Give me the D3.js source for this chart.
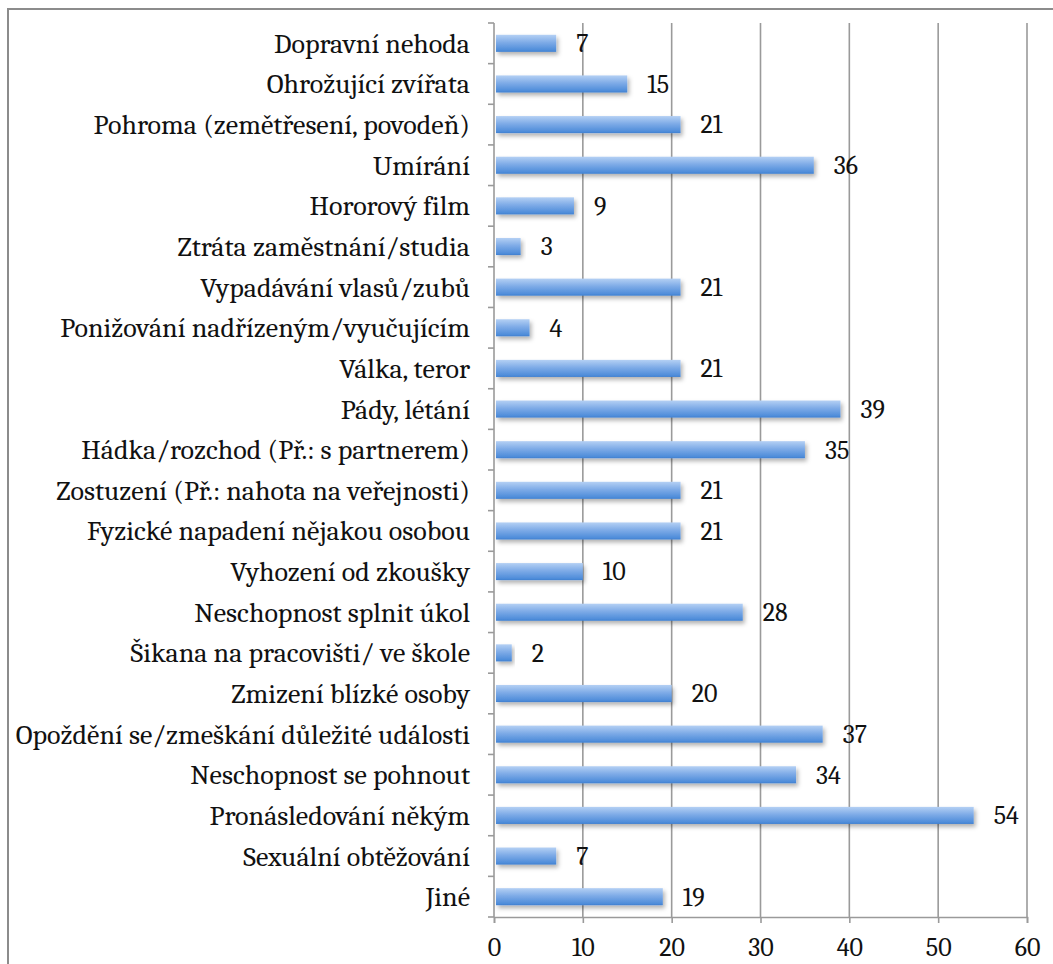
<!DOCTYPE html>
<html><head><meta charset="utf-8">
<script src="https://cdn.jsdelivr.net/npm/d3@7"></script>
<style>
html,body{margin:0;padding:0;background:#fff;}
svg{display:block;}
</style></head>
<body>
<svg id="chart" width="1053" height="964"></svg>
<script>
const categories = [
  "Dopravní nehoda",
  "Ohrožující zvířata",
  "Pohroma (zemětřesení, povodeň)",
  "Umírání",
  "Hororový film",
  "Ztráta zaměstnání/studia",
  "Vypadávání vlasů/zubů",
  "Ponižování nadřízeným/vyučujícím",
  "Válka, teror",
  "Pády, létání",
  "Hádka/rozchod (Př.: s partnerem)",
  "Zostuzení (Př.: nahota na veřejnosti)",
  "Fyzické napadení nějakou osobou",
  "Vyhození od zkoušky",
  "Neschopnost splnit úkol",
  "Šikana na pracovišti/ ve škole",
  "Zmizení blízké osoby",
  "Opoždění se/zmeškání důležité události",
  "Neschopnost se pohnout",
  "Pronásledování někým",
  "Sexuální obtěžování",
  "Jiné"
];
const values = [7,15,21,36,9,3,21,4,21,39,35,21,21,10,28,2,20,37,34,54,7,19];
const xTicks = [0,10,20,30,40,50,60];

const svg = d3.select("#chart");
const W = 1053, H = 964;
const mLeft = 494, mRight = 1027, mTop = 23, mBottom = 917;

// outer border
svg.append("rect").attr("x",8).attr("y",9).attr("width",W+10).attr("height",H+10)
  .attr("fill","none").attr("stroke","#8c8c8c").attr("stroke-width",2);

const defs = svg.append("defs");
const grad = defs.append("linearGradient").attr("id","barGrad")
  .attr("x1",0).attr("y1",0).attr("x2",0).attr("y2",1);
grad.append("stop").attr("offset","0%").attr("stop-color","#b4d0f4");
grad.append("stop").attr("offset","45%").attr("stop-color","#7eabe7");
grad.append("stop").attr("offset","90%").attr("stop-color","#4f8dda");
grad.append("stop").attr("offset","100%").attr("stop-color","#3f7fcf");
const f = defs.append("filter").attr("id","shadow").attr("x","-10%").attr("y","-50%").attr("width","130%").attr("height","250%");
f.append("feDropShadow").attr("dx",2).attr("dy",3).attr("stdDeviation",2)
  .attr("flood-color","#000").attr("flood-opacity",0.3);

const x = d3.scaleLinear().domain([0,60]).range([mLeft,mRight]);
const y = d3.scaleBand().domain(categories).range([mTop,mBottom]).padding(0);

const font = "Caladea, Cambria, 'Liberation Serif', serif";

// gridlines
svg.append("g").selectAll("line").data(xTicks.filter(d=>d>0)).join("line")
  .attr("x1",d=>x(d)).attr("x2",d=>x(d)).attr("y1",mTop).attr("y2",mBottom)
  .attr("stroke","#9a9a9a").attr("stroke-width",1.6);

// x axis
const xAxis = svg.append("g").attr("transform",`translate(0,${mBottom})`)
  .call(d3.axisBottom(x).tickValues(xTicks).tickSize(6).tickPadding(15).tickFormat(d3.format("d")));
xAxis.select(".domain").attr("stroke","#9a9a9a").attr("stroke-width",1.6);
xAxis.selectAll(".tick line").attr("stroke","#9a9a9a").attr("stroke-width",1.6);
xAxis.selectAll("text").attr("font-family",font).attr("font-size",26).attr("fill","#111");

// y axis line and ticks at band boundaries
const yg = svg.append("g");
yg.append("line").attr("x1",mLeft).attr("x2",mLeft).attr("y1",mTop).attr("y2",mBottom)
  .attr("stroke","#9a9a9a").attr("stroke-width",1.6);
const bounds = categories.map(c=>y(c)).concat([mBottom]);
yg.selectAll("line.t").data(bounds).join("line").attr("class","t")
  .attr("x1",mLeft-6).attr("x2",mLeft).attr("y1",d=>d).attr("y2",d=>d)
  .attr("stroke","#9a9a9a").attr("stroke-width",1.6);

// category labels
svg.append("g").selectAll("text").data(categories).join("text")
  .attr("x",470).attr("y",d=>y(d)+y.bandwidth()/2)
  .attr("dy","0.34em").attr("text-anchor","end")
  .attr("font-family",font).attr("font-size",28).attr("fill","#111")
  .text(d=>d);

// bars
const bh = y.bandwidth()*0.42;
svg.append("g").selectAll("rect").data(values).join("rect")
  .attr("x",x(0)+2).attr("y",(d,i)=>y(categories[i])+y.bandwidth()/2-bh/2)
  .attr("width",d=>x(d)-x(0)-2).attr("height",bh)
  .attr("fill","url(#barGrad)").attr("filter","url(#shadow)");

// value labels
svg.append("g").selectAll("text").data(values).join("text")
  .attr("x",d=>x(d)+20).attr("y",(d,i)=>y(categories[i])+y.bandwidth()/2)
  .attr("dy","0.34em")
  .attr("font-family",font).attr("font-size",26).attr("fill","#111")
  .text(d=>d);
</script>
</body></html>
